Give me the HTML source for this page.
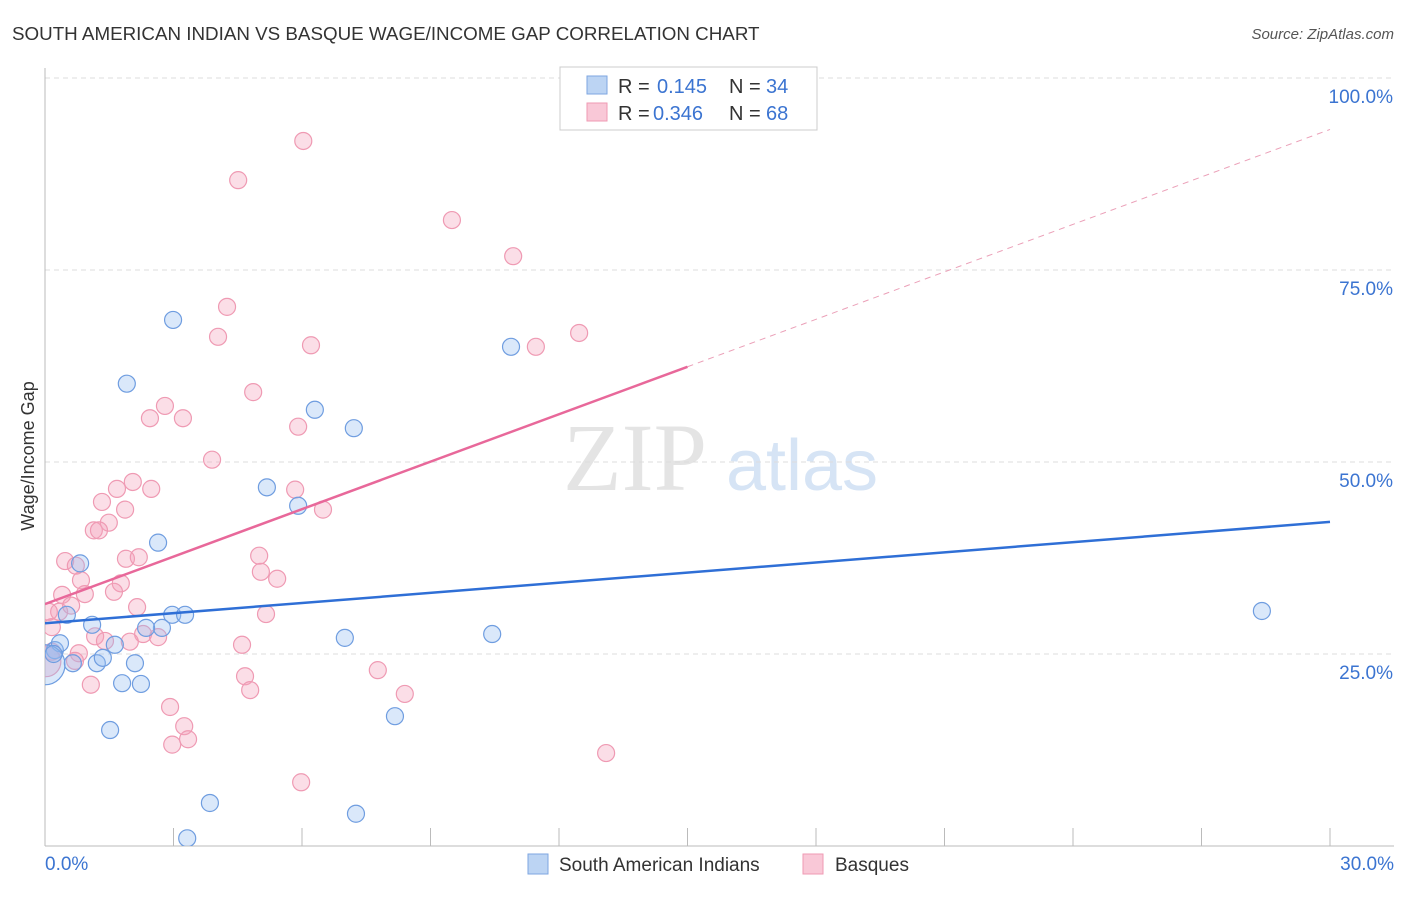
<!DOCTYPE html>
<html><head><meta charset="utf-8"><style>
body{margin:0;background:#fff;font-family:"Liberation Sans",sans-serif}
</style></head><body>
<svg width="1406" height="892" xmlns="http://www.w3.org/2000/svg">
<defs><clipPath id="plot"><rect x="45" y="60" width="1360" height="786"/></clipPath></defs>
<text x="12" y="40" font-size="18.8" fill="#333">SOUTH AMERICAN INDIAN VS BASQUE WAGE/INCOME GAP CORRELATION CHART</text>
<text x="1394" y="39" font-size="15" fill="#555" font-style="italic" text-anchor="end">Source: ZipAtlas.com</text>
<text x="635" y="490" font-size="96" font-family="Liberation Serif,serif" fill="#e4e4e4" text-anchor="middle">ZIP</text>
<text x="802" y="490" font-size="72" fill="#d6e4f5" text-anchor="middle">atlas</text>
<g id="grid"></g>
<g id="marks" clip-path="url(#plot)"></g>
<text transform="translate(34,456) rotate(-90)" font-size="18" fill="#333" text-anchor="middle">Wage/Income Gap</text>
<text x="45" y="870" font-size="19" fill="#3b74d1">0.0%</text>
<text x="1394" y="870" font-size="19" fill="#3b74d1" text-anchor="end">30.0%</text>
<g>
<rect x="560" y="67" width="257" height="63" fill="#fff" stroke="#ccc"/>
<rect x="587" y="76" width="20" height="18" fill="#bcd4f3" stroke="#7ea6e0"/>
<rect x="587" y="103" width="20" height="18" fill="#f9c8d7" stroke="#ef9ab3"/>
<text x="618" y="93" font-size="20" fill="#333">R =</text><text x="657" y="93" font-size="20" fill="#3b74d1">0.145</text>
<text x="729" y="93" font-size="20" fill="#333">N =</text><text x="766" y="93" font-size="20" fill="#3b74d1">34</text>
<text x="618" y="120" font-size="20" fill="#333">R =</text><text x="653" y="120" font-size="20" fill="#3b74d1">0.346</text>
<text x="729" y="120" font-size="20" fill="#333">N =</text><text x="766" y="120" font-size="20" fill="#3b74d1">68</text>
</g>
<g>
<rect x="528" y="854" width="20" height="20" fill="#bcd4f3" stroke="#7ea6e0"/>
<text x="559" y="871" font-size="19" fill="#333">South American Indians</text>
<rect x="803" y="854" width="20" height="20" fill="#f9c8d7" stroke="#ef9ab3"/>
<text x="835" y="871" font-size="19" fill="#333">Basques</text>
</g>
</svg>
<script>
const yTicks=[25,50,75,100];
const blueX=[0.23,0.35,0,0.65,0.82,1.10,1.21,1.35,1.52,1.63,1.80,1.91,2.10,2.24,2.64,2.97,2.99,3.27,2.73,2.36,3.32,3.85,5.18,5.91,6.30,7.00,7.21,7.26,8.17,10.44,10.88,28.41,0.51,0.2];
const blueY=[25.5,26.4,23.6,23.8,36.8,28.8,23.8,24.5,15.1,26.2,21.2,60.2,23.8,21.1,39.5,30.1,68.5,30.1,28.4,28.4,1.0,5.6,46.7,44.3,56.8,27.1,54.4,4.2,16.9,27.6,65.0,30.6,30.1,25.0];
const pinkX=[6.03,4.51,9.50,10.93,4.25,4.04,6.21,11.46,12.47,4.86,2.80,2.45,3.22,5.91,3.90,2.05,1.68,2.48,1.33,5.84,6.49,1.87,1.49,1.14,1.26,0.47,0.72,1.89,2.19,5.00,5.04,5.42,0.84,1.77,1.61,0.40,0.93,2.15,0.33,0.61,5.16,0.16,0.09,1.17,1.40,2.29,2.64,1.98,4.60,0.79,0.70,1.07,4.67,4.79,7.77,8.40,2.92,3.25,2.97,3.34,13.10,5.98,0.02,0.16];
const pinkY=[91.8,86.7,81.5,76.8,70.2,66.3,65.2,65.0,66.8,59.1,57.3,55.7,55.7,54.6,50.3,47.4,46.5,46.5,44.8,46.4,43.8,43.8,42.1,41.1,41.1,37.1,36.5,37.4,37.6,37.8,35.7,34.8,34.6,34.2,33.1,32.7,32.8,31.1,30.5,31.3,30.2,28.5,30.5,27.3,26.7,27.6,27.2,26.6,26.2,25.1,24.1,21.0,22.1,20.3,22.9,19.8,18.1,15.6,13.2,13.9,12.1,8.3,24.0,25.3];
const blueLine=[29.0,42.2];
const pinkLine=[31.5,93.3];
const pinkSolidEnd=15;
const NS="http://www.w3.org/2000/svg";
const X=v=>45+v/30*1285, Y=v=>846-v/25*192;
function mk(t,a,p){const e=document.createElementNS(NS,t);for(const k in a)e.setAttribute(k,a[k]);p.appendChild(e);return e;}
const g=document.getElementById('grid'),m=document.getElementById('marks');
yTicks.forEach(t=>{
 const l=mk('line',{x1:45,x2:1394,y1:Y(t),y2:Y(t),stroke:'#ddd','stroke-dasharray':'5,4'},g);
 
 
 const tx=mk('text',{x:1393,y:Y(t)+25,'font-size':19,fill:'#3b74d1','text-anchor':'end'},g);
 tx.textContent=t.toFixed(1)+'%';
 
 
});
const ax=mk('line',{x1:45,x2:45,y1:68,y2:846,stroke:'#bbb'},g);


const bx=mk('line',{x1:45,x2:1394,y1:846,y2:846,stroke:'#bbb'},g);


for(let i=1;i<=10;i++){const t=mk('line',{x1:X(i*3),x2:X(i*3),y1:828,y2:846,stroke:'#bbb'},g);
 
 }
pinkX.forEach((v,i)=>{const big=i>=62&&v<0.05;const c=mk('circle',{cx:X(v),cy:Y(pinkY[i]),r:big?15:8.5,fill:'rgba(244,160,185,0.35)',stroke:'#ef9ab3','stroke-width':1.2},m);
 
 });
blueX.forEach((v,i)=>{const big=(v===0);const c=mk('circle',{cx:X(v),cy:Y(blueY[i]),r:big?20:8.5,fill:'rgba(150,190,240,0.35)',stroke:'#6f9de0','stroke-width':1.2},m);
 
 });
const bl=mk('line',{x1:X(0),y1:Y(blueLine[0]),x2:X(30),y2:Y(blueLine[1]),stroke:'#2f6fd6','stroke-width':2.5},m);


const py=v=>pinkLine[0]+(pinkLine[1]-pinkLine[0])*v/30;
const pl=mk('line',{x1:X(0),y1:Y(pinkLine[0]),x2:X(pinkSolidEnd),y2:Y(py(pinkSolidEnd)),stroke:'#e8689a','stroke-width':2.5},m);


const pd=mk('line',{x1:X(pinkSolidEnd),y1:Y(py(pinkSolidEnd)),x2:X(30),y2:Y(pinkLine[1]),stroke:'#eba0b8','stroke-width':1,'stroke-dasharray':'6,5'},m);


</script>
</body></html>
